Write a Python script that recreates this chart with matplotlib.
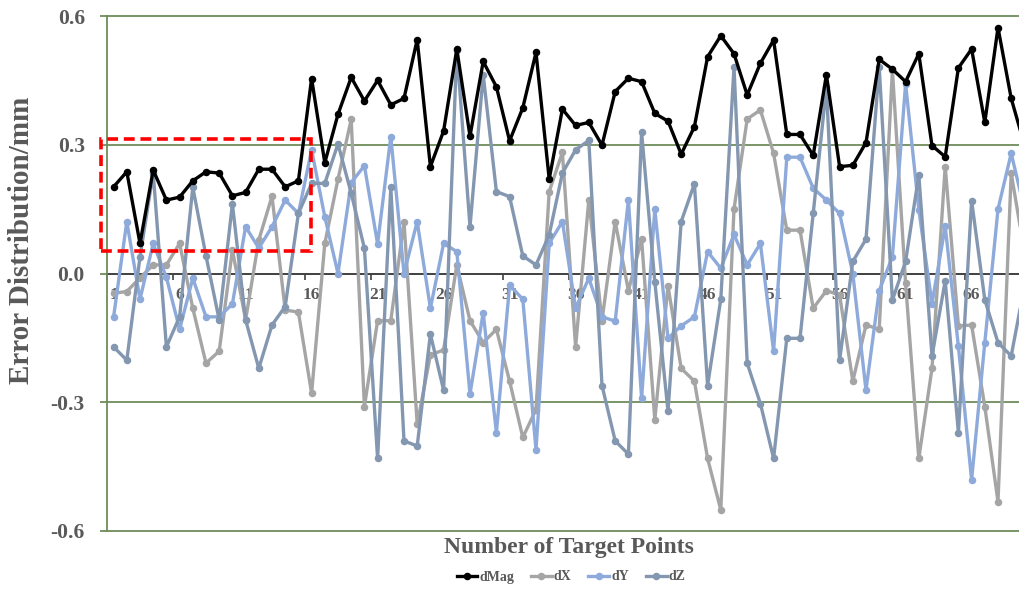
import matplotlib
matplotlib.use("Agg")
import matplotlib.pyplot as plt
from matplotlib.patches import Rectangle

# Target point indices
points = list(range(1, 71))

dMag = [0.202, 0.237, 0.070, 0.241, 0.171, 0.178, 0.216, 0.237, 0.234, 0.181,
        0.189, 0.243, 0.243, 0.202, 0.216, 0.454, 0.258, 0.371, 0.457, 0.402,
        0.450, 0.393, 0.408, 0.545, 0.249, 0.332, 0.523, 0.320, 0.494, 0.435,
        0.309, 0.386, 0.515, 0.220, 0.383, 0.345, 0.352, 0.299, 0.424, 0.455,
        0.447, 0.373, 0.355, 0.278, 0.342, 0.505, 0.554, 0.512, 0.416, 0.490,
        0.544, 0.324, 0.324, 0.275, 0.463, 0.249, 0.252, 0.305, 0.499, 0.476,
        0.447, 0.512, 0.298, 0.272, 0.479, 0.523, 0.352, 0.573, 0.408, 0.300]

dX = [-0.046, -0.042, -0.010, 0.020, 0.020, 0.070, -0.081, -0.209, -0.181, 0.055,
      -0.108, 0.078, 0.180, -0.085, -0.090, -0.279, 0.070, 0.220, 0.359, -0.310,
      -0.110, -0.110, 0.121, -0.351, -0.190, -0.178, 0.020, -0.110, -0.161, -0.130,
      -0.251, -0.382, -0.317, 0.191, 0.282, -0.171, 0.171, -0.110, 0.121, -0.040,
      0.080, -0.341, -0.029, -0.221, -0.251, -0.431, -0.551, 0.150, 0.360, 0.381,
      0.280, 0.101, 0.101, -0.081, -0.040, -0.050, -0.251, -0.120, -0.130, 0.474,
      -0.023, -0.431, -0.221, 0.249, -0.122, -0.120, -0.310, -0.532, 0.234, 0.050]

dY = [-0.101, 0.121, -0.060, 0.070, -0.009, -0.130, -0.011, -0.101, -0.101, -0.071,
      0.109, 0.059, 0.109, 0.171, 0.140, 0.288, 0.132, 0.000, 0.212, 0.251,
      0.069, 0.319, 0.000, 0.121, -0.081, 0.070, 0.051, -0.281, -0.091, -0.371,
      -0.027, -0.060, -0.411, 0.070, 0.121, -0.081, -0.011, -0.101, -0.111, 0.171,
      -0.291, 0.150, -0.151, -0.122, -0.101, 0.051, 0.012, 0.091, 0.020, 0.070,
      -0.181, 0.271, 0.271, 0.199, 0.171, 0.140, 0.000, -0.272, -0.040, 0.039,
      0.442, 0.149, -0.070, 0.110, -0.170, -0.481, -0.161, 0.150, 0.280, 0.150]

dZ = [-0.171, -0.202, 0.039, 0.235, -0.171, -0.101, 0.201, 0.041, -0.108, 0.162,
      -0.108, -0.221, -0.120, -0.077, 0.140, 0.210, 0.210, 0.302, 0.187, 0.059,
      -0.431, 0.201, -0.390, -0.402, -0.141, -0.272, 0.521, 0.109, 0.463, 0.191,
      0.179, 0.041, 0.020, 0.090, 0.234, 0.288, 0.310, -0.261, -0.390, -0.421,
      0.329, -0.019, -0.321, 0.121, 0.209, -0.261, -0.060, 0.481, -0.209, -0.303,
      -0.431, -0.151, -0.151, 0.140, 0.434, -0.202, 0.028, 0.080, 0.482, -0.062,
      0.028, 0.230, -0.192, -0.017, -0.371, 0.170, -0.061, -0.161, -0.192, -0.030]

series_names = ["dMag", "dX", "dY", "dZ"]
series_colors = ["#000000", "#A5A5A5", "#8EAADB", "#8497B0"]

x_tick_values = list(range(1, 70, 5))
x_tick_labels = [str(v) for v in x_tick_values]
y_tick_values = [-0.6, -0.3, 0.0, 0.3, 0.6]
y_tick_labels = ["-0.6", "-0.3", "0.0", "0.3", "0.6"]

W, H = 1019, 589
fig = plt.figure(figsize=(W / 100, H / 100), dpi=100)
plt.rcParams["font.family"] = ["Liberation Serif", "DejaVu Serif"]

ax_left, ax_right, ax_top, ax_bottom = 107, 1019, 16, 531
ax = fig.add_axes([ax_left / W, 1 - ax_bottom / H,
                   (ax_right - ax_left) / W, (ax_bottom - ax_top) / H])

step_px = 13.2
ax.set_xlim(0.5, 0.5 + (ax_right - ax_left) / step_px)
ax.set_ylim(-0.6, 0.6)

grid_color = "#6E8C5A"
label_color = "#595959"

for yv in (-0.6, -0.3, 0.3, 0.6):
    ax.axhline(yv, color=grid_color, lw=1.3, zorder=1, clip_on=False)

for name, vals, col in zip(series_names, [dMag, dX, dY, dZ], series_colors):
    ax.plot(points, vals, color=col, lw=2.4, marker="o", markersize=4.4,
            label=name, zorder=3 if name != "dMag" else 4, clip_on=True)

# spines: left in green, zero line as category axis
for s in ("top", "right"):
    ax.spines[s].set_visible(False)
ax.spines["left"].set_color(grid_color)
ax.spines["left"].set_linewidth(1.3)
ax.spines["bottom"].set_position(("data", 0))
ax.spines["bottom"].set_color("#404040")
ax.spines["bottom"].set_linewidth(1.4)
ax.spines["bottom"].set_zorder(2)

ax.set_yticks(y_tick_values)
ax.set_yticklabels(y_tick_labels)
ax.tick_params(axis="y", direction="out", length=5, width=1.3, color=grid_color,
               labelcolor=label_color, labelsize=15.5, pad=11)

ax.set_xticks(x_tick_values)
ax.set_xticklabels(x_tick_labels)
ax.set_xticks([0.5 + 5 * k for k in range(14)], minor=True)
ax.tick_params(axis="x", which="major", length=0, pad=10,
               labelcolor=label_color, labelsize=12.5)
ax.tick_params(axis="x", which="minor", direction="out", length=4, width=1.2,
               color="#404040")
for lab in ax.get_xticklabels() + ax.get_yticklabels():
    lab.set_fontweight("bold")

fig.text(569 / W, 1 - 548 / H, "Number of Target Points", ha="center", va="center",
         fontsize=17, fontweight="bold", color=label_color)
fig.text(22 / W, 1 - 240 / H, "Error Distribution/mm", ha="center", va="center",
         rotation=90, fontsize=21, fontweight="bold", color=label_color)

# highlighted region of the first fifteen points
rect = Rectangle((0.02, 0.052), 15.9, 0.261, fill=False, edgecolor="#FF0000",
                 lw=2.6, linestyle=(0, (3, 1.6)), zorder=5, clip_on=False)
ax.add_patch(rect)

leg = fig.legend(loc="center", bbox_to_anchor=(571 / W, 1 - 577 / H), ncol=4,
                 frameon=False, handlelength=1.5, handletextpad=0.15,
                 columnspacing=1.2, prop={"weight": "bold", "size": 10})
for t in leg.get_texts():
    t.set_color(label_color)

fig.savefig("out.png", dpi=100)
